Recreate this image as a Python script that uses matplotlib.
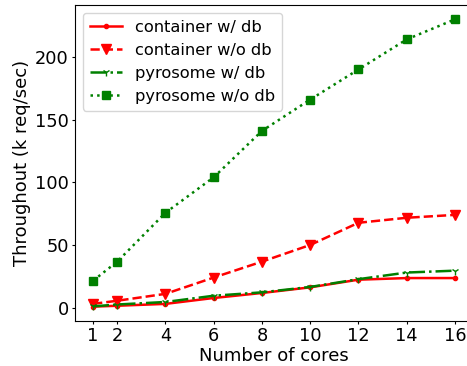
import matplotlib
matplotlib.use("Agg")
import matplotlib.pyplot as plt

# throughput (k req/sec) by number of cores
cores = [1, 2, 4, 6, 8, 10, 12, 14, 16]
container_db = [0.8, 1.5, 3.0, 7.7, 11.7, 16.2, 22.3, 23.6, 23.6]
container_nodb = [3.0, 5.5, 11.0, 24.0, 36.7, 50.0, 67.7, 71.7, 74.0]
pyrosome_db = [1.0, 2.5, 4.5, 9.5, 12.2, 16.5, 22.7, 28.0, 29.5]
pyrosome_nodb = [21.5, 36.7, 75.7, 104.0, 141.0, 166.0, 190.0, 214.0, 230.0]

fig = plt.figure(figsize=(4.67, 3.66), dpi=100)
# axes run slightly past the right edge of the canvas
ax = fig.add_axes([75 / 467, 45 / 366, 398 / 467, 316 / 366])

ax.plot(cores, container_db, color="red", linestyle="-", marker=".", linewidth=1.8, label="container w/ db")
ax.plot(cores, container_nodb, color="red", linestyle="--", marker="v", linewidth=1.8, markersize=7, label="container w/o db")
ax.plot(cores, pyrosome_db, color="green", linestyle="-.", marker="1", linewidth=1.8, label="pyrosome w/ db")
ax.plot(cores, pyrosome_nodb, color="green", linestyle=":", marker="s", linewidth=1.8, markersize=6, label="pyrosome w/o db")

ax.set_xticks(cores)
ax.set_yticks([0, 50, 100, 150, 200])
ax.tick_params(labelsize=12.8, length=2.5, pad=2)
ax.set_xlabel("Number of cores", fontsize=13, labelpad=1)
ax.set_ylabel("Throughout (k req/sec)", fontsize=13, labelpad=3)
ax.legend(loc="upper left", fontsize=11.7)

plt.savefig("out.png", dpi=100)
